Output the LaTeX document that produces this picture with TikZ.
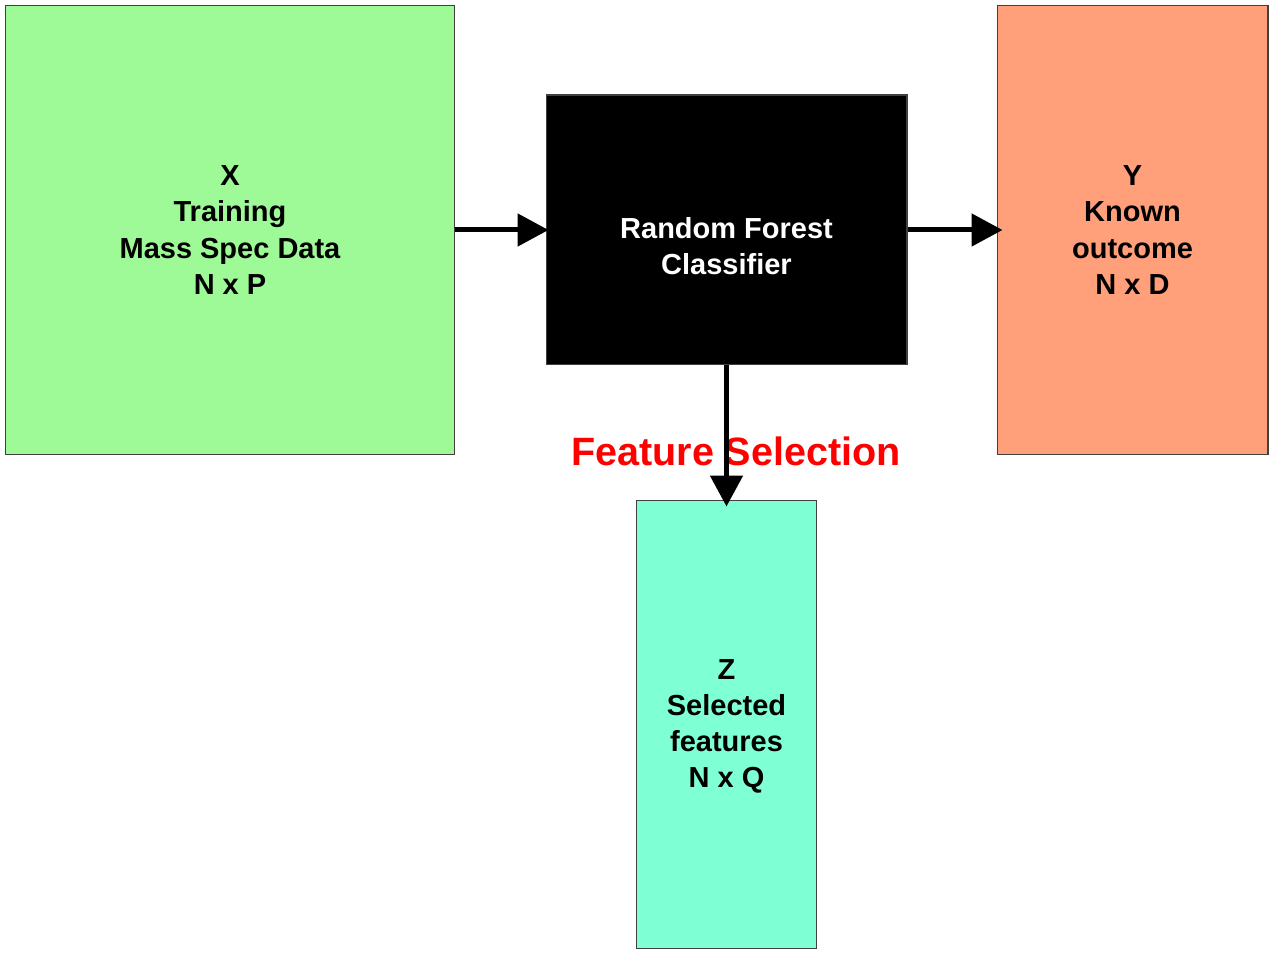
\documentclass[tikz,border=0pt]{standalone}
\usepackage{fontspec}
\setmainfont{Liberation Sans}
\usetikzlibrary{arrows.meta,positioning,calc}
\definecolor{xgreen}{HTML}{9EFA96}
\definecolor{ysalmon}{HTML}{FFA07A}
\definecolor{zaqua}{HTML}{7FFFD4}
\tikzstyle{mybox} = [draw=black!75, line width=0.6pt, rectangle, inner sep=0pt, align=center,
  font=\fontsize{16.5}{20.6}\selectfont\bfseries]
\tikzstyle{mytext} = [inner sep=0pt, align=center, font=\fontsize{16.5}{20.6}\selectfont\bfseries]
\tikzstyle{myarrow} = [-{Triangle[length=0.62cm,width=0.64cm]}, line width=0.1cm]

\begin{document}
\begin{tikzpicture}[x=0.02cm,y=-0.02cm]
  \useasboundingbox (0,0) rectangle (1273,955);
  \node[mybox, fill=xgreen, minimum width=9cm, minimum height=9cm] (xdata) at (230,230)
    {X\\Training\\Mass Spec Data\\N x P};
  \node[mybox, fill=black, minimum width=7.22cm, minimum height=5.4cm] (rf) at (726.5,230) {};
  \node[mytext, text=white] (rftext) at ($(rf.center)+(0,16)$) {Random Forest\\Classifier};
  \node[mybox, fill=ysalmon, minimum width=5.42cm, minimum height=9cm] (ydata) at (1132.5,230)
    {Y\\Known\\outcome\\N x D};
  \node[mybox, fill=zaqua, minimum width=3.6cm, minimum height=8.98cm] (zdata) at (726.5,724.5) {};
  \node[mytext] (ztext) at ($(zdata.center)+(0,2)$) {Z\\Selected\\features\\N x Q};
  \node[text=red, font=\fontsize{22.5}{26}\selectfont\bfseries] (fsel) at (736,451) {Feature Selection};
  \draw[myarrow, shorten >=-0.06cm] (xdata.east) -- (rf.west);
  \draw[myarrow, shorten >=-0.12cm] (rf.east) -- (ydata.west);
  \draw[myarrow, shorten >=-0.14cm] (rf.south) -- (zdata.north);
\end{tikzpicture}
\end{document}
